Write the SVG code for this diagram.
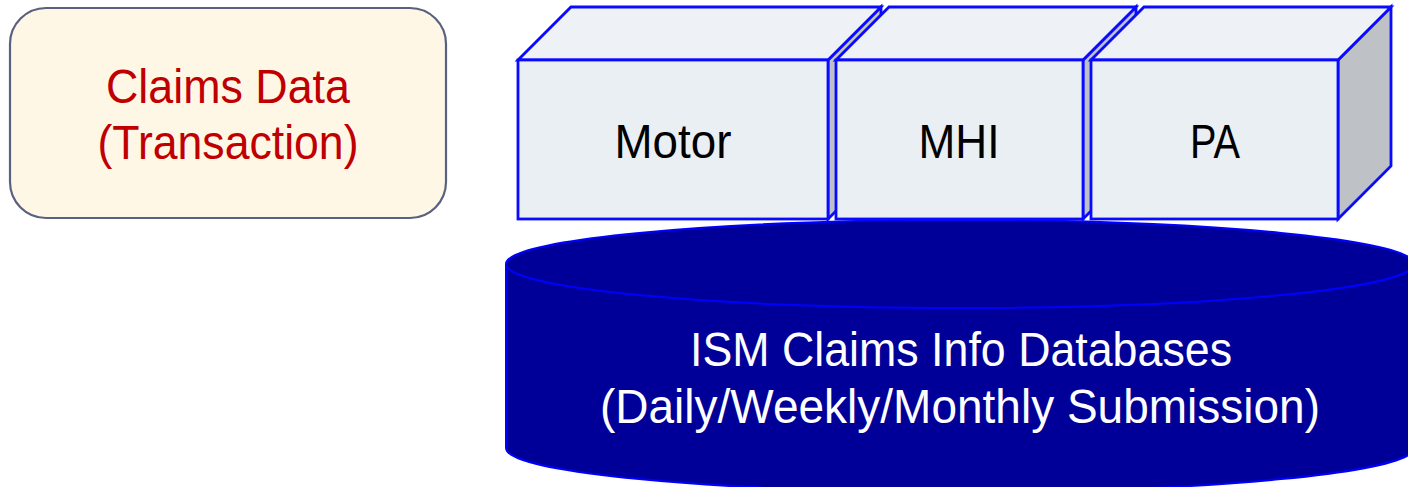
<svg xmlns="http://www.w3.org/2000/svg" width="1408" height="487" viewBox="0 0 1408 487">
  <style>
    .lbl { font-family: "Liberation Sans", Arial, sans-serif; font-size: 49px; text-anchor: middle; }
    .front { fill: #eaeff4; stroke: #0a0aff; stroke-width: 2.8; stroke-linejoin: miter; }
    .top { fill: #eef2f6; stroke: #0a0aff; stroke-width: 2.8; }
    .side { fill: #bec2c6; stroke: #0a0aff; stroke-width: 2.8; }
  </style>

  <!-- source of the transaction data -->
  <g id="claims-data">
    <rect x="10" y="8" width="436" height="210" rx="36" ry="36" fill="#fff7e6" stroke="#5a6080" stroke-width="2.2"/>
    <text class="lbl" x="228" y="103" fill="#c00000" textLength="244" lengthAdjust="spacingAndGlyphs">Claims Data</text>
    <text class="lbl" x="228" y="159" fill="#c00000" textLength="261" lengthAdjust="spacingAndGlyphs">(Transaction)</text>
  </g>

  <!-- database cylinder -->
  <g id="ism-databases">
    <path d="M506,264 L506,448 A454,44 0 0 0 1414,448 L1414,264 A454,44 0 0 0 506,264 Z" fill="#000099" stroke="#0000ff" stroke-width="2"/>
    <path d="M506,264 A454,44 0 0 0 1414,264" fill="none" stroke="#0000ff" stroke-width="2"/>
    <text class="lbl" x="961" y="366" fill="#ffffff" textLength="542" lengthAdjust="spacingAndGlyphs">ISM Claims Info Databases</text>
    <text class="lbl" x="960" y="423" fill="#ffffff" textLength="720" lengthAdjust="spacingAndGlyphs">(Daily/Weekly/Monthly Submission)</text>
  </g>

  <!-- product line blocks -->
  <g id="motor">
    <polygon class="side" points="828,219 881,166 881,7 828,60"/>
    <polygon class="top" points="518,60 571,7 881,7 828,60"/>
    <rect class="front" x="518" y="60" width="310" height="159"/>
    <text class="lbl" x="673" y="158" fill="#000000" textLength="117" lengthAdjust="spacingAndGlyphs">Motor</text>
  </g>
  <g id="mhi">
    <polygon class="side" points="1083,219 1136,166 1136,7 1083,60"/>
    <polygon class="top" points="836,60 889,7 1136,7 1083,60"/>
    <rect class="front" x="836" y="60" width="247" height="159"/>
    <text class="lbl" x="959" y="158" fill="#000000" textLength="81" lengthAdjust="spacingAndGlyphs">MHI</text>
  </g>
  <g id="pa">
    <polygon class="side" points="1338,219 1391,166 1391,7 1338,60"/>
    <polygon class="top" points="1091,60 1144,7 1391,7 1338,60"/>
    <rect class="front" x="1091" y="60" width="247" height="159"/>
    <text class="lbl" x="1215" y="158" fill="#000000" textLength="50" lengthAdjust="spacingAndGlyphs">PA</text>
  </g>

  <g id="connectors"/>
</svg>
